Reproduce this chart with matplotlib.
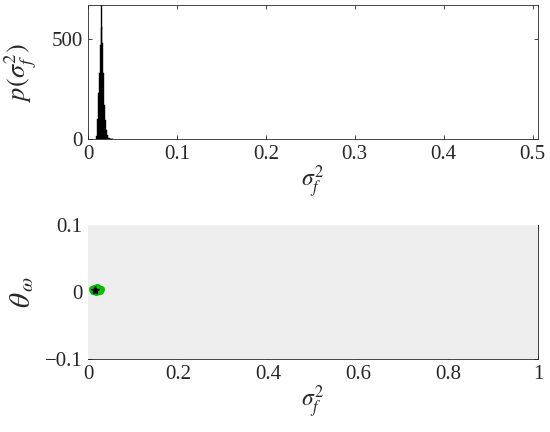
import numpy as np
import matplotlib.pyplot as plt

plt.rcParams['font.family'] = ['Liberation Serif', 'DejaVu Serif']
plt.rcParams['mathtext.fontset'] = 'stix'
plt.rcParams['font.size'] = 15

txt_col = (0.15, 0.15, 0.15)

# histogram of sigma_f^2 samples (bin centres, density)
hist_centres = [0.00925, 0.00975, 0.01025, 0.01075, 0.01125, 0.01175, 0.01225,
                0.01275, 0.01325, 0.01375, 0.01425, 0.01475, 0.01525, 0.01575,
                0.01625, 0.01675, 0.01725, 0.01775, 0.01825, 0.01875, 0.01925,
                0.01975, 0.02025, 0.02075, 0.02125, 0.02175, 0.02225, 0.02275,
                0.02325, 0.02375, 0.02475, 0.02625, 0.02825]
hist_density = [3, 15, 50, 100, 170, 230, 280, 330, 370, 420, 470, 520, 555,
                560, 480, 400, 330, 270, 220, 170, 130, 95, 65, 45, 30, 20,
                14, 10, 7, 5, 3, 2, 1]

# true value
true_sigma2 = [0.0146]
true_theta = [0.003]

# prior samples region (dense grey cloud)
prior_x = [0.0, 1.0]
prior_lo = [-0.1, -0.1]
prior_hi = [0.1, 0.1]

# posterior samples
post_x = [0.010, 0.012, 0.014, 0.016, 0.018, 0.020, 0.022, 0.024, 0.026, 0.028,
          0.013, 0.017, 0.021, 0.025, 0.015, 0.019, 0.023, 0.011, 0.027]
post_y = [0.004, 0.002, 0.005, 0.003, 0.006, 0.002, 0.005, 0.003, 0.004, 0.004,
          0.006, 0.000, 0.006, 0.001, 0.001, 0.007, 0.006, 0.003, 0.002]

fig = plt.figure(figsize=(5.5, 4.32), dpi=100)
ax1 = fig.add_axes([0.16, 0.678, 0.818, 0.31])
ax2 = fig.add_axes([0.16, 0.169, 0.818, 0.31])

# --- top: histogram
ax1.fill_between(hist_centres, hist_density, step='mid', color='k', linewidth=0.3)
ax1.axvline(true_sigma2[0], color='k', linewidth=1.0)
ax1.set_xlim(0, 0.506)
ax1.set_ylim(0, 670)
ax1.set_xticks([0, 0.1, 0.2, 0.3, 0.4, 0.5])
ax1.set_xticklabels(['0', '0.1', '0.2', '0.3', '0.4', '0.5'])
ax1.set_yticks([0, 500])
ax1.set_xlabel(r'$\sigma_f^2$', color=txt_col, labelpad=0, fontsize=17)
ax1.set_ylabel(r'$p(\sigma_f^2)$', color=txt_col, fontsize=19)
ax1.yaxis.set_label_coords(-0.11, 0.5)

# --- bottom: samples
ax2.fill_between(prior_x, prior_lo, prior_hi, color='#eeeeee', linewidth=0, zorder=2.6)
ax2.scatter(post_x, post_y, s=22, color='#00cc00', edgecolors='#00aa00',
            linewidths=0.4, zorder=4)
ax2.plot(true_sigma2, true_theta, marker='*', color='k', markersize=6,
         linestyle='none', zorder=5)
ax2.set_xlim(0, 1)
ax2.set_ylim(-0.1, 0.1)
ax2.set_xticks([0, 0.2, 0.4, 0.6, 0.8, 1])
ax2.set_xticklabels(['0', '0.2', '0.4', '0.6', '0.8', '1'])
ax2.set_yticks([-0.1, 0, 0.1])
ax2.set_yticklabels(['\u22120.1', '0', '0.1'])
ax2.set_xlabel(r'$\sigma_f^2$', color=txt_col, labelpad=0, fontsize=17)
ax2.set_ylabel(r'$\theta_{\,\omega}$', color=txt_col, fontsize=21)
ax2.yaxis.set_label_coords(-0.115, 0.5)

for ax in (ax1, ax2):
    ax.tick_params(direction='in', length=3, width=0.6, top=True, right=True,
                   colors=txt_col, labelsize=15, pad=4)
    for sp in ax.spines.values():
        sp.set_color(txt_col)
        sp.set_linewidth(0.6)

fig.savefig('out.png', dpi=100)
